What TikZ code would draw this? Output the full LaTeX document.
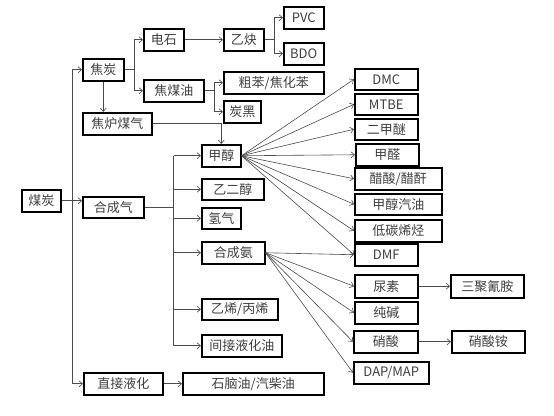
\documentclass[tikz,border=0pt]{standalone}
\usepackage{fontspec}
\setmainfont{Noto Sans CJK SC}
\usetikzlibrary{arrows.meta,calc}
\begin{document}
\begin{tikzpicture}[x=1pt,y=-1pt,
  box/.style={draw=black,line width=1.5pt,fill=white,inner sep=0pt,anchor=north west,
    font=\fontsize{13}{15}\selectfont,text=black!75},
  arr/.style={draw=black!70,line width=0.6pt,-{Straight Barb[length=3.5pt,width=6pt]}},
  ln/.style={draw=black!70,line width=0.6pt}]
\useasboundingbox[fill=white] (0,0) rectangle (554,415);
% nodes
\node[box,minimum width=39pt,minimum height=22pt] (mt) at (21,189) {煤炭};
\node[box,minimum width=41pt,minimum height=22pt] (jt) at (82,58) {焦炭};
\node[box,minimum width=40pt,minimum height=22pt] (ds) at (143,28) {电石};
\node[box,minimum width=40pt,minimum height=22pt] (yq) at (223,28) {乙炔};
\node[box,minimum width=40pt,minimum height=22pt] (pvc) at (283,6) {PVC};
\node[box,minimum width=40pt,minimum height=22pt] (bdo) at (283,42) {BDO};
\node[box,minimum width=60pt,minimum height=22pt] (jmy) at (143,79) {焦煤油};
\node[box,minimum width=100pt,minimum height=22pt] (cb) at (223,71) {粗苯/焦化苯};
\node[box,minimum width=37pt,minimum height=22pt] (th) at (223,100) {炭黑};
\node[box,minimum width=69pt,minimum height=22pt] (jl) at (82,112) {焦炉煤气};
\node[box,minimum width=39pt,minimum height=22pt] (jc) at (201,144) {甲醇};
\node[box,minimum width=62pt,minimum height=21pt] (yec) at (201,178) {乙二醇};
\node[box,minimum width=39pt,minimum height=21pt] (qq) at (201,207) {氢气};
\node[box,minimum width=63pt,minimum height=22pt] (hca) at (201,241) {合成氨};
\node[box,minimum width=76pt,minimum height=21pt] (yx) at (201,298) {乙烯/丙烯};
\node[box,minimum width=80pt,minimum height=22pt] (jj) at (201,334) {间接液化油};
\node[box,minimum width=61pt,minimum height=21pt] (hcq) at (82,196) {合成气};
\node[box,minimum width=79pt,minimum height=22pt] (zj) at (83,372) {直接液化};
\node[box,minimum width=141pt,minimum height=22pt] (sn) at (182,372) {石脑油/汽柴油};
\node[box,minimum width=63pt,minimum height=21pt] (dmc) at (354,68) {DMC};
\node[box,minimum width=63pt,minimum height=21pt] (mtbe) at (354,93) {MTBE};
\node[box,minimum width=63pt,minimum height=21pt] (ejm) at (354,118) {二甲醚};
\node[box,minimum width=63pt,minimum height=22pt] (jq) at (355,143) {甲醛};
\node[box,minimum width=87pt,minimum height=22pt] (cs) at (354,167) {醋酸/醋酐};
\node[box,minimum width=87pt,minimum height=21pt] (jcqy) at (354,193) {甲醇汽油};
\node[box,minimum width=87pt,minimum height=22pt] (dt) at (354,219) {低碳烯烃};
\node[box,minimum width=63pt,minimum height=22pt] (dmf) at (354,243) {DMF};
\node[box,minimum width=63pt,minimum height=23pt] (ns) at (354,274) {尿素};
\node[box,minimum width=73pt,minimum height=23pt] (sj) at (450,274) {三聚氰胺};
\node[box,minimum width=63pt,minimum height=22pt] (cj) at (354,301) {纯碱};
\node[box,minimum width=64pt,minimum height=22pt] (xs) at (353,330) {硝酸};
\node[box,minimum width=73pt,minimum height=22pt] (xsa) at (451,330) {硝酸铵};
\node[box,minimum width=75pt,minimum height=22pt] (dap) at (353,361) {DAP/MAP};
% trunk
\coordinate (tr) at (72,200);
\draw[arr] (mt.east) -- (mt.east -| hcq.west);
\draw[arr] (tr) |- (jt.west);
\draw[arr] (tr) |- (zj.west);
% coke branch
\coordinate (b1) at ($(jt.east)+(10,0)$);
\draw[ln] (jt.east) -- (b1);
\draw[arr] (b1) |- (ds.west);
\draw[arr] (b1) |- (jmy.west);
\draw[arr] (jt.south) -- (jt.south |- jl.north);
\draw[arr] (ds) -- (yq);
\coordinate (b2) at ($(yq.east)+(10,0)$);
\draw[ln] (yq.east) -- (b2);
\draw[arr] (b2) |- (pvc.west);
\draw[arr] (b2) |- (bdo.west);
\coordinate (b3) at ($(jmy.east)+(10,0)$);
\draw[ln] (jmy.east) -- (b3);
\draw[arr] (b3) |- (cb.west);
\draw[arr] (b3) |- (th.west);
\draw[arr] (jl.east) -| (jc.north);
% syngas branch
\coordinate (b4) at ($(hcq.east)+(29,0)$);
\draw[ln] (hcq.east) -- (b4);
\draw[ln] (b4 |- jc.west) -- (b4 |- jj.west);
\foreach \t in {jc,yec,qq,hca,yx,jj} \draw[arr] (b4 |- \t.west) -- (\t.west);
\draw[arr] (zj) -- (sn);
% methanol fan
\foreach \t in {dmc,mtbe,ejm,jq,cs,jcqy,dt,dmf} \draw[arr] (jc.east) -- (\t.west);
% ammonia fan
\foreach \t in {dmf,ns,cj,xs,dap} \draw[arr] (hca.east) -- (\t.west);
\draw[arr] (ns) -- (sj);
\draw[arr] (xs) -- (xsa);
\end{tikzpicture}
\end{document}
